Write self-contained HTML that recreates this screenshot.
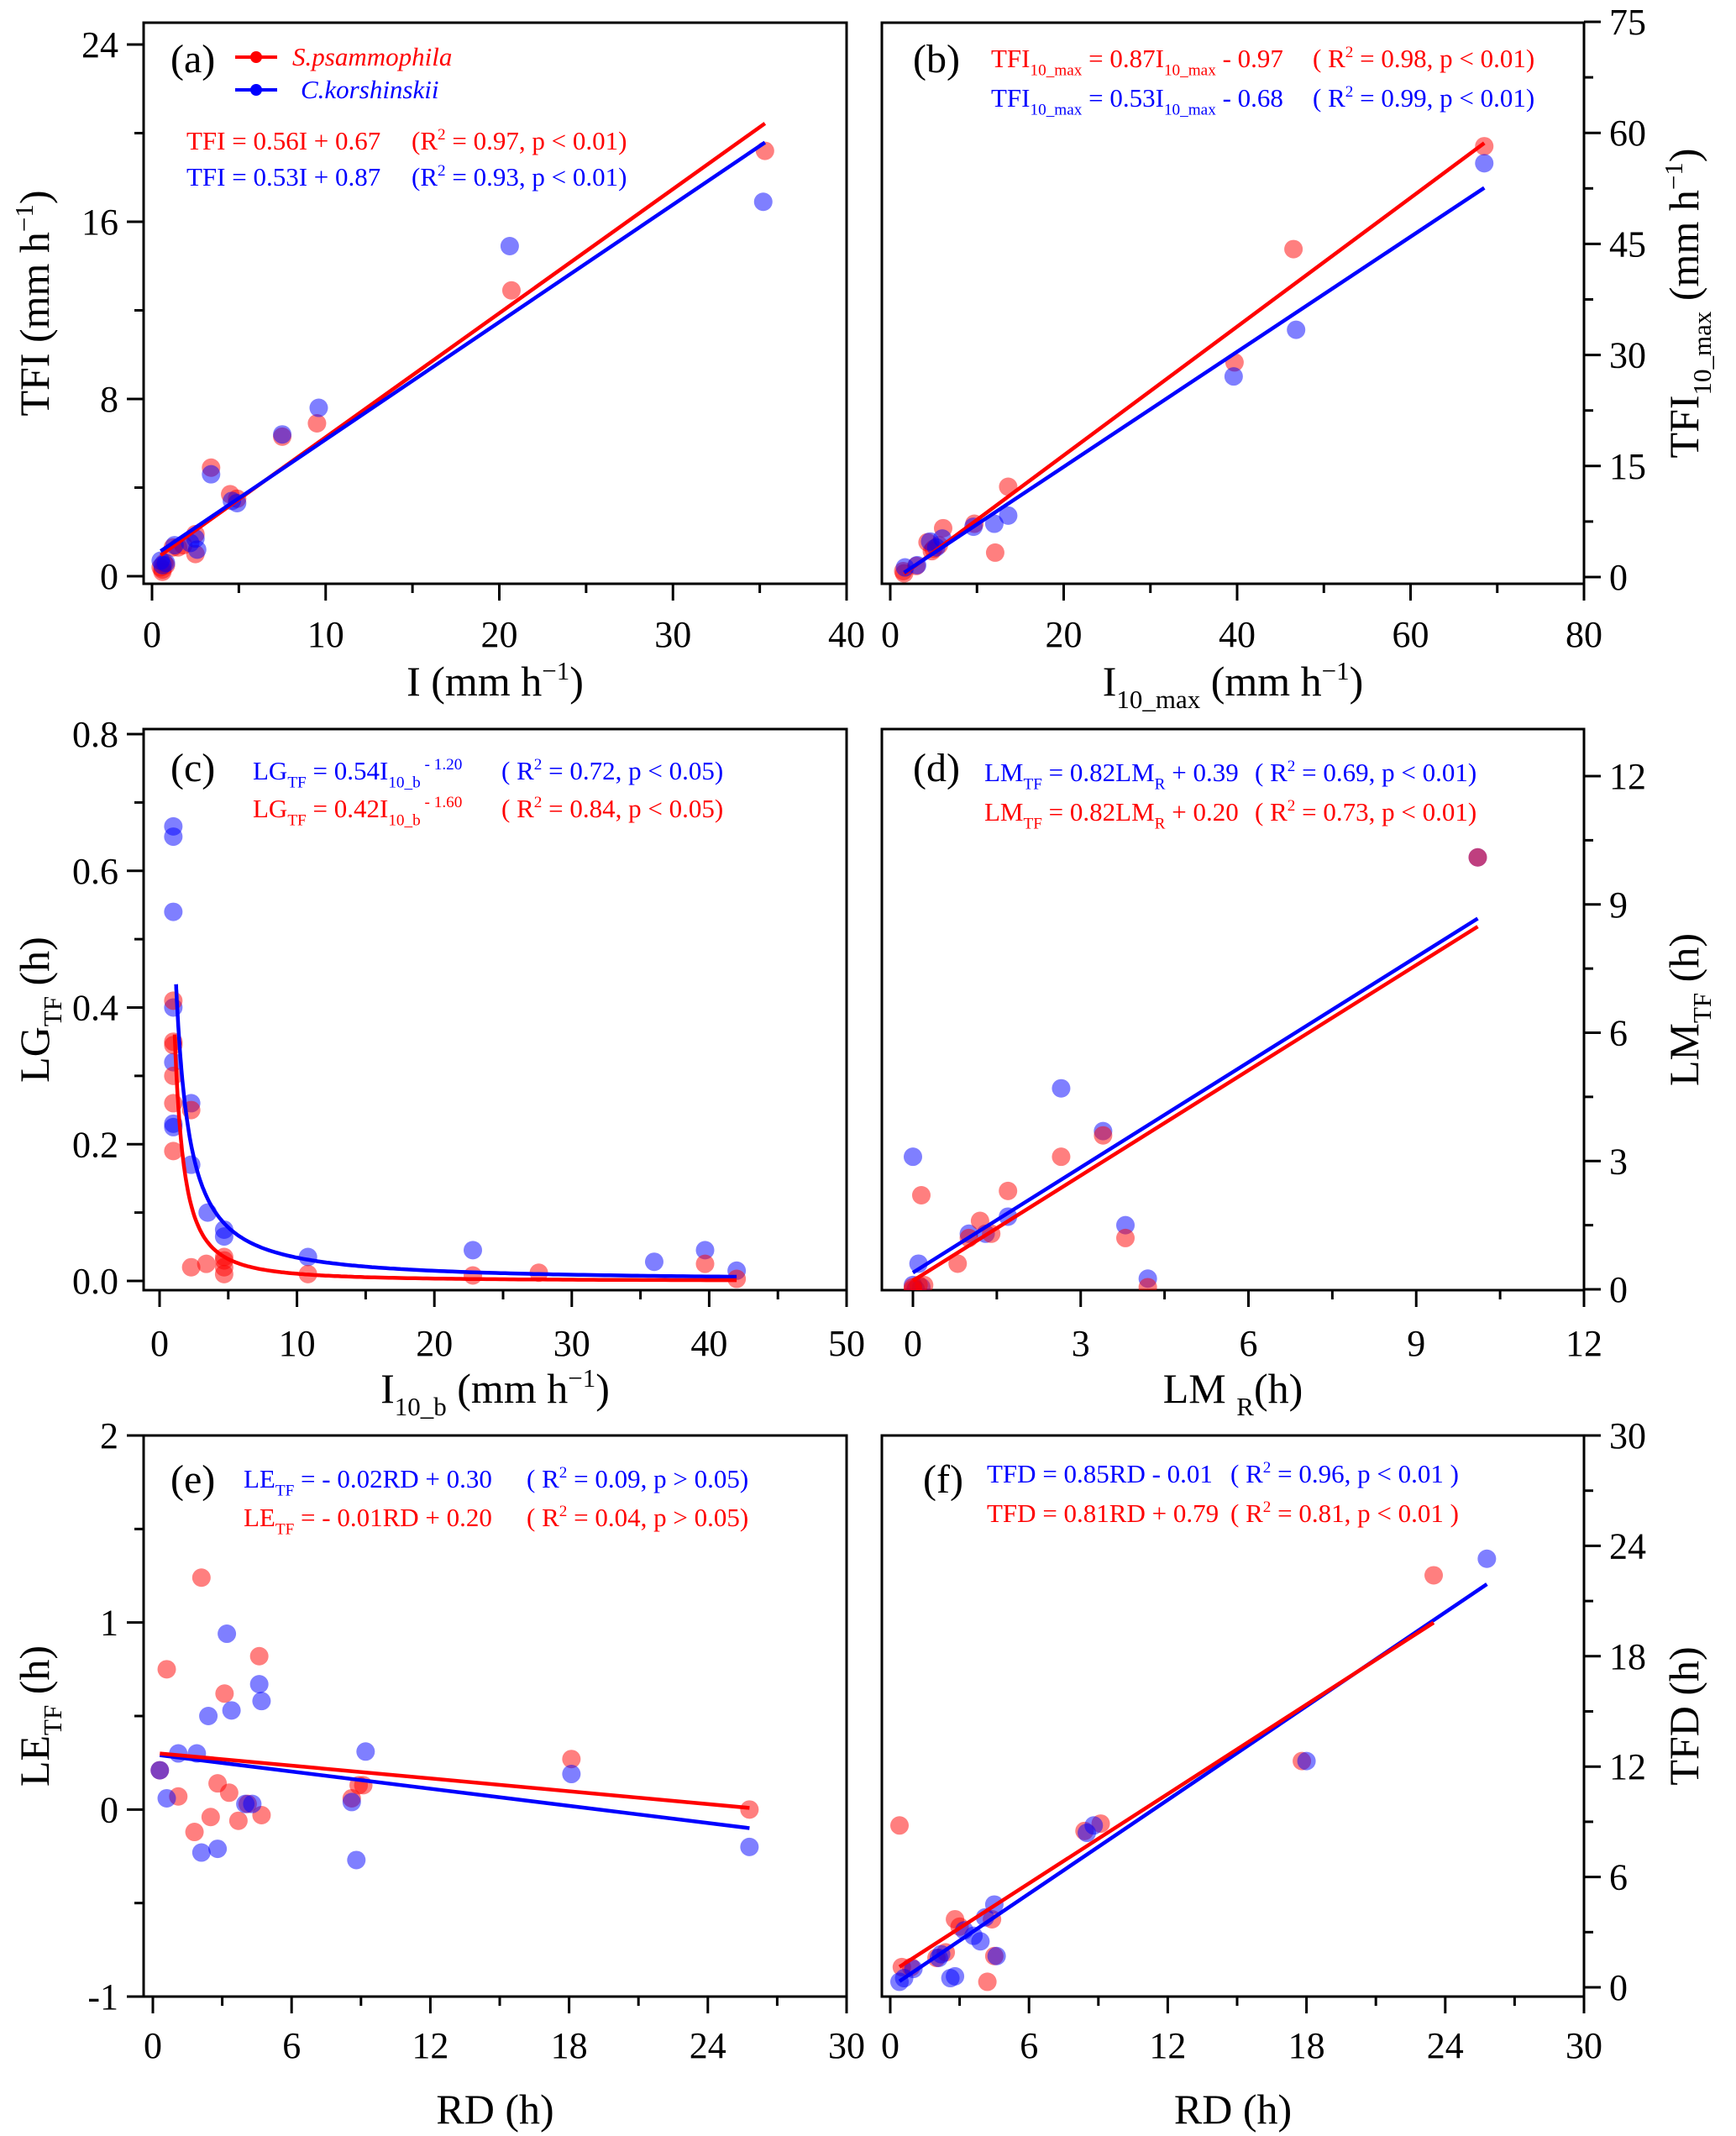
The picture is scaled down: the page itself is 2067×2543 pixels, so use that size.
<!DOCTYPE html>
<html><head><meta charset="utf-8">
<style>
html,body{margin:0;padding:0;background:#fff;}
svg{display:block;font-family:"Liberation Serif",serif;}
</style></head>
<body>
<svg id="fig" width="2067" height="2543" viewBox="0 0 2067 2543" xmlns="http://www.w3.org/2000/svg"></svg>
<script>
// ---------- DATA ----------
// Panel a: I vs TFI
const aRedX=[35.3,20.7,9.5,7.5,3.4,4.5,4.9,2.5,2.5,1.2,1.5,1.8,0.5,0.6,0.7,0.8,0.6];
const aRedY=[19.2,12.9,6.9,6.3,4.9,3.7,3.5,1.9,1.0,1.3,1.3,1.4,0.4,0.3,0.6,0.5,0.2];
const aBlueX=[35.2,20.6,9.6,7.5,3.4,4.6,4.9,2.5,2.6,2.2,1.3,0.5,0.8,0.6];
const aBlueY=[16.9,14.9,7.6,6.4,4.6,3.4,3.3,1.7,1.2,1.5,1.4,0.7,0.6,0.5];
const aFitRed=[0.56,0.67,0.5,35.3];
const aFitBlue=[0.53,0.87,0.5,35.3];
// Panel b: I10_max vs TFI10_max
const bRedX=[68.5,46.5,39.7,13.6,12.1,9.7,6.1,5.6,4.8,4.3,5.0,3.0,1.5,1.6];
const bRedY=[58.2,44.3,29.0,12.2,3.3,7.2,6.6,4.3,3.5,4.7,3.8,1.5,0.8,0.5];
const bBlueX=[68.5,46.8,39.6,13.6,12.0,9.6,6.0,5.3,4.6,3.1,1.7];
const bBlueY=[55.9,33.4,27.1,8.3,7.2,6.8,5.2,4.0,4.8,1.6,1.3];
const bFitRed=[0.87,-0.97,1.6,68.5];
const bFitBlue=[0.777,-0.65,1.6,68.5];
// Panel c: I10_b vs LG_TF (power fits)
const cBlueX=[1.0,1.0,1.0,1.0,1.0,1.0,1.0,2.3,2.3,3.5,4.7,4.7,10.8,22.8,36,39.7,42];
const cBlueY=[0.665,0.65,0.54,0.40,0.32,0.225,0.23,0.26,0.17,0.10,0.075,0.065,0.035,0.045,0.028,0.045,0.015];
const cRedX=[1.0,1.0,1.0,1.0,1.0,1.0,2.3,2.3,3.4,4.7,4.7,4.7,4.7,10.8,22.8,27.6,39.7,42];
const cRedY=[0.41,0.35,0.345,0.30,0.26,0.19,0.25,0.02,0.025,0.035,0.03,0.02,0.01,0.01,0.008,0.012,0.025,0.003];
const cFitBlue=[0.54,-1.2,1.2,42];
const cFitRed=[0.42,-1.6,1.1,42];
// Panel d: LM_R vs LM_TF
const dBlueX=[0,0.1,0,0.05,0.15,1.0,1.3,1.7,2.65,3.4,3.8,4.2,10.1];
const dBlueY=[3.1,0.6,0.1,0,0.05,1.3,1.3,1.7,4.7,3.7,1.5,0.25,10.1];
const dRedX=[0.15,0,0.1,0,0.2,0.8,1.0,1.2,1.4,1.7,2.65,3.4,3.8,4.2,10.1];
const dRedY=[2.2,0.05,0.1,0,0.1,0.6,1.2,1.6,1.3,2.3,3.1,3.6,1.2,0.05,10.1];
const dFitBlue=[0.82,0.39,0,10.1];
const dFitRed=[0.82,0.20,0,10.1];
// Panel e: RD vs LE_TF
const eRedX=[0.3,0.6,1.1,1.8,2.1,2.5,2.8,3.1,3.3,3.7,4.1,4.6,4.7,8.6,8.9,9.1,18.1,25.8];
const eRedY=[0.21,0.75,0.07,-0.12,1.24,-0.04,0.14,0.62,0.09,-0.06,0.03,0.82,-0.03,0.06,0.13,0.13,0.27,0.0];
const eBlueX=[0.3,0.6,1.1,1.9,2.1,2.4,2.8,3.2,3.4,4.0,4.3,4.6,4.7,8.6,8.8,9.2,18.1,25.8];
const eBlueY=[0.21,0.06,0.3,0.3,-0.23,0.5,-0.21,0.94,0.53,0.03,0.03,0.67,0.58,0.04,-0.27,0.31,0.19,-0.2];
const eFitRed=[-0.0114,0.303,0.3,25.8];
const eFitBlue=[-0.0153,0.295,0.3,25.8];
// Panel f: RD vs TFD
const fRedX=[0.4,0.5,0.9,2.0,2.4,2.8,3.0,4.2,4.4,4.5,8.4,9.1,17.8,23.5];
const fRedY=[8.8,1.1,1.1,1.6,1.9,3.7,3.3,0.3,3.7,1.7,8.5,8.9,12.3,22.4];
const fBlueX=[0.4,0.6,1.0,2.1,2.2,2.6,2.8,3.2,3.6,3.9,4.1,4.5,4.6,8.5,8.8,18.0,25.8];
const fBlueY=[0.3,0.5,1.0,1.6,1.8,0.5,0.6,3.1,2.8,2.5,3.8,4.5,1.7,8.4,8.8,12.3,23.3];
const fFitBlue=[0.85,-0.01,0.4,25.8];
const fFitRed=[0.81,0.79,0.4,23.5];
// tick labels
const aXTicks=["0","10","20","30","40"], aYTicks=["0","8","16","24"];
const bXTicks=["0","20","40","60","80"], bYTicks=["0","15","30","45","60","75"];
const cXTicks=["0","10","20","30","40","50"], cYTicks=["0.0","0.2","0.4","0.6","0.8"];
const dXTicks=["0","3","6","9","12"], dYTicks=["0","3","6","9","12"];
const eXTicks=["0","6","12","18","24","30"], eYTicks=["-1","0","1","2"];
const fXTicks=["0","6","12","18","24","30"], fYTicks=["0","6","12","18","24","30"];

// ---------- DRAWING ----------
const NS="http://www.w3.org/2000/svg";
const svg=document.getElementById('fig');
const RED="#ff0000", BLUE="#0000ff";
function mk(tag,attrs,parent){const e=document.createElementNS(NS,tag);for(const k in attrs)e.setAttribute(k,attrs[k]);(parent||svg).appendChild(e);return e;}
// segments: [text, mode] mode: n|sub|sup
function rich(parent,x,y,segs,size,fill,anchor,extra){
  const t=mk('text',Object.assign({x:x,y:y,'font-size':size,fill:fill,'text-anchor':anchor||'start'},extra||{}),parent);
  let cur=0;
  segs.forEach(s=>{
    const sp=mk('tspan',{},t);
    let target=0,fs=size;
    if(s[1]==='sub'){target=size*0.3;fs=size*0.62;}
    if(s[1]==='sup'){target=-size*0.38;fs=size*0.62;}
    sp.setAttribute('dy',target-cur);cur=target;
    sp.setAttribute('font-size',fs);
    if(s[2])sp.setAttribute('font-style','italic');
    sp.textContent=s[0];
  });
  return t;
}
function linmap(d0,d1,p0,p1){return v=>p0+(v-d0)*(p1-p0)/(d1-d0);}

function panel(cfg){
  const g=mk('g',{});
  
  
  const X=linmap(cfg.xd[0],cfg.xd[1],cfg.xp[0],cfg.xp[1]);
  const Y=linmap(cfg.yd[0],cfg.yd[1],cfg.yp[0],cfg.yp[1]);
  const [L,T,R,B]=cfg.frame;
  const fr=mk('rect',{x:L,y:T,width:R-L,height:B-T,fill:'none',stroke:'#000','stroke-width':3},g);
  
  
  // x ticks
  const xa=mk('g',{},g);
  
  
  const nX=cfg.xTicks.length;
  for(let i=0;i<nX;i++){
    const v=cfg.xd[0]+i*cfg.xStep;const px=X(v);
    mk('line',{x1:px,x2:px,y1:B,y2:B+20,stroke:'#000','stroke-width':3},xa);
    if(i<nX-1){const m=X(v+cfg.xStep/2);mk('line',{x1:m,x2:m,y1:B,y2:B+11,stroke:'#000','stroke-width':3},xa);}
    const tl=mk('text',{x:px,y:cfg.xLabY,'font-size':44,'text-anchor':'middle'},xa);
    
    
    tl.textContent=cfg.xTicks[i];
  }
  // y ticks
  const ya=mk('g',{},g);
  
  
  const nY=cfg.yTicks.length;const right=cfg.side==='right';
  const bx=right?R:L, dir=right?1:-1;
  for(let i=0;i<nY;i++){
    const v=cfg.yd[0]+i*cfg.yStep;const py=Y(v);
    mk('line',{x1:bx,x2:bx+dir*20,y1:py,y2:py,stroke:'#000','stroke-width':3},ya);
    if(i<nY-1){const m=Y(v+cfg.yStep/2);mk('line',{x1:bx,x2:bx+dir*11,y1:m,y2:m,stroke:'#000','stroke-width':3},ya);}
    const tl=mk('text',{x:right?bx+30:bx-30,y:py+15,'font-size':44,'text-anchor':right?'start':'end'},ya);
    
    
    tl.textContent=cfg.yTicks[i];
  }
  // titles
  const xt=rich(g,(L+R)/2,cfg.xTitleY,cfg.xTitle,50,'#000','middle');
  
  
  const tx=right?2022:58, ty=(T+B)/2;
  const yt=rich(g,0,0,cfg.yTitle,50,'#000','middle',{transform:`translate(${tx},${ty}) rotate(-90)`});
  
  
  // clip
  const cp=mk('clipPath',{id:'clip'+cfg.id},g);
  mk('rect',{x:L,y:T,width:R-L,height:B-T},cp);
  const pg=mk('g',{'clip-path':`url(#clip${cfg.id})`},g);
  // points
  cfg.series.forEach(s=>{
    const sg=mk('g',{},pg);
    
    
    s.x.forEach((v,i)=>{
      const c=mk('circle',{cx:X(v),cy:Y(s.y[i]),r:11,fill:s.color,'fill-opacity':0.5},sg);
      
      
    });
  });
  // fits
  cfg.fits.forEach(f=>{
    const p=f.p;let d='';
    const N=f.power?200:1;
    for(let k=0;k<=N;k++){
      const xv=p[2]+(p[3]-p[2])*(f.power?Math.pow(k/N,2.2):k/N);
      const yv=f.power?p[0]*Math.pow(xv,p[1]):p[0]*xv+p[1];
      d+=(k?'L':'M')+X(xv).toFixed(1)+','+Y(yv).toFixed(1);
    }
    const pa=mk('path',{d:d,fill:'none',stroke:f.color,'stroke-width':4.5},pg);
    
    
  });
  // panel label
  const pl=mk('text',{x:cfg.label[0],y:cfg.label[1],'font-size':48},g);
  
  
  pl.textContent='('+cfg.id+')';
  // equations
  cfg.eqs.forEach(e=>{
    const t1=rich(g,e.x1,e.y,e.a,31,e.color,'start');
    
    
    const t2=rich(g,e.x2,e.y,e.b,31,e.color,'start');
    
    
  });
  return g;
}
const N_='n';
function r2(v,rel,p){return [['(R',N_],['2','sup'],[` = ${v}, p ${rel} ${p})`,N_]];}

panel({id:'a',frame:[171,27,1008,695],xd:[0,40],xp:[181,1008],yd:[0,24],yp:[686,53],
 xStep:10,yStep:8,xTicks:aXTicks,yTicks:aYTicks,side:'left',xLabY:770,xTitleY:828,
 xTitle:[['I  (mm h',N_],['−1','sup'],[')',N_]],yTitle:[['TFI  (mm h',N_],['−1','sup'],[')',N_]],
 series:[{name:'s-psammophila',color:RED,x:aRedX,y:aRedY},{name:'c-korshinskii',color:BLUE,x:aBlueX,y:aBlueY}],
 fits:[{name:'s-psammophila',color:RED,p:aFitRed},{name:'c-korshinskii',color:BLUE,p:aFitBlue}],
 label:[203,86],
 eqs:[{name:'s-psammophila',color:RED,x1:222,x2:490,y:178,a:[['TFI = 0.56I + 0.67',N_]],b:r2('0.97','<','0.01')},
      {name:'c-korshinskii',color:BLUE,x1:222,x2:490,y:221,a:[['TFI = 0.53I + 0.87',N_]],b:r2('0.93','<','0.01')}]});

// legend
(function(){
  const lg=mk('g',{});
  
  
  [[RED,68,78,'S.psammophila',348,'legend-s-psammophila'],[BLUE,107,117,'C.korshinskii',358,'legend-c-korshinskii']].forEach(r=>{
    const e=mk('g',{},lg);
    
    
    mk('line',{x1:280,x2:330,y1:r[1],y2:r[1],stroke:r[0],'stroke-width':4},e);
    mk('circle',{cx:305,cy:r[1],r:7,fill:r[0]},e);
    const t=mk('text',{x:r[4],y:r[2],'font-size':31,fill:r[0],'font-style':'italic'},e);
    t.textContent=r[3];
  });
})();

panel({id:'b',frame:[1050,27,1886,695],xd:[0,80],xp:[1060,1886],yd:[0,75],yp:[687,26],
 xStep:20,yStep:15,xTicks:bXTicks,yTicks:bYTicks,side:'right',xLabY:770,xTitleY:828,
 xTitle:[['I',N_],['10_max','sub'],[' (mm h',N_],['−1','sup'],[')',N_]],
 yTitle:[['TFI',N_],['10_max','sub'],[' (mm h',N_],['−1','sup'],[')',N_]],
 series:[{name:'s-psammophila',color:RED,x:bRedX,y:bRedY},{name:'c-korshinskii',color:BLUE,x:bBlueX,y:bBlueY}],
 fits:[{name:'s-psammophila',color:RED,p:bFitRed},{name:'c-korshinskii',color:BLUE,p:bFitBlue}],
 label:[1087,86],
 eqs:[{name:'s-psammophila',color:RED,x1:1180,x2:1563,y:80,a:[['TFI',N_],['10_max','sub'],[' = 0.87I',N_],['10_max','sub'],[' - 0.97',N_]],b:[['( R',N_],['2','sup'],[' = 0.98, p < 0.01)',N_]]},
      {name:'c-korshinskii',color:BLUE,x1:1180,x2:1563,y:127,a:[['TFI',N_],['10_max','sub'],[' = 0.53I',N_],['10_max','sub'],[' - 0.68',N_]],b:[['( R',N_],['2','sup'],[' = 0.99, p < 0.01)',N_]]}]});

panel({id:'c',frame:[171,868,1008,1536],xd:[0,50],xp:[190,1008],yd:[0,0.8],yp:[1525,874],
 xStep:10,yStep:0.2,xTicks:cXTicks,yTicks:cYTicks,side:'left',xLabY:1614,xTitleY:1670,
 xTitle:[['I',N_],['10_b','sub'],[' (mm h',N_],['−1','sup'],[')',N_]],
 yTitle:[['LG',N_],['TF','sub'],[' (h)',N_]],
 series:[{name:'c-korshinskii',color:BLUE,x:cBlueX,y:cBlueY},{name:'s-psammophila',color:RED,x:cRedX,y:cRedY}],
 fits:[{name:'c-korshinskii',color:BLUE,p:cFitBlue,power:true},{name:'s-psammophila',color:RED,p:cFitRed,power:true}],
 label:[203,930],
 eqs:[{name:'c-korshinskii',color:BLUE,x1:301,x2:597,y:928,a:[['LG',N_],['TF','sub'],[' = 0.54I',N_],['10_b','sub'],[' - 1.20','sup']],b:[['( R',N_],['2','sup'],[' = 0.72, p < 0.05)',N_]]},
      {name:'s-psammophila',color:RED,x1:301,x2:597,y:973,a:[['LG',N_],['TF','sub'],[' = 0.42I',N_],['10_b','sub'],[' - 1.60','sup']],b:[['( R',N_],['2','sup'],[' = 0.84, p < 0.05)',N_]]}]});

panel({id:'d',frame:[1050,868,1886,1536],xd:[0,12],xp:[1087,1886],yd:[0,12],yp:[1535,924],
 xStep:3,yStep:3,xTicks:dXTicks,yTicks:dYTicks,side:'right',xLabY:1614,xTitleY:1670,
 xTitle:[['LM ',N_],['R','sub'],['(h)',N_]],
 yTitle:[['LM',N_],['TF','sub'],[' (h)',N_]],
 series:[{name:'c-korshinskii',color:BLUE,x:dBlueX,y:dBlueY},{name:'s-psammophila',color:RED,x:dRedX,y:dRedY}],
 fits:[{name:'c-korshinskii',color:BLUE,p:dFitBlue},{name:'s-psammophila',color:RED,p:dFitRed}],
 label:[1087,930],
 eqs:[{name:'c-korshinskii',color:BLUE,x1:1172,x2:1494,y:930,a:[['LM',N_],['TF','sub'],[' = 0.82LM',N_],['R','sub'],[' + 0.39',N_]],b:[['( R',N_],['2','sup'],[' = 0.69, p < 0.01)',N_]]},
      {name:'s-psammophila',color:RED,x1:1172,x2:1494,y:977,a:[['LM',N_],['TF','sub'],[' = 0.82LM',N_],['R','sub'],[' + 0.20',N_]],b:[['( R',N_],['2','sup'],[' = 0.73, p < 0.01)',N_]]}]});

panel({id:'e',frame:[171,1709,1008,2377],xd:[0,30],xp:[182,1008],yd:[-1,2],yp:[2377,1709],
 xStep:6,yStep:1,xTicks:eXTicks,yTicks:eYTicks,side:'left',xLabY:2450,xTitleY:2528,
 xTitle:[['RD (h)',N_]],
 yTitle:[['LE',N_],['TF','sub'],[' (h)',N_]],
 series:[{name:'s-psammophila',color:RED,x:eRedX,y:eRedY},{name:'c-korshinskii',color:BLUE,x:eBlueX,y:eBlueY}],
 fits:[{name:'c-korshinskii',color:BLUE,p:eFitBlue},{name:'s-psammophila',color:RED,p:eFitRed}],
 label:[203,1777],
 eqs:[{name:'c-korshinskii',color:BLUE,x1:290,x2:627,y:1771,a:[['LE',N_],['TF','sub'],[' = - 0.02RD + 0.30',N_]],b:[['( R',N_],['2','sup'],[' = 0.09, p > 0.05)',N_]]},
      {name:'s-psammophila',color:RED,x1:290,x2:627,y:1817,a:[['LE',N_],['TF','sub'],[' = - 0.01RD + 0.20',N_]],b:[['( R',N_],['2','sup'],[' = 0.04, p > 0.05)',N_]]}]});

panel({id:'f',frame:[1050,1709,1886,2377],xd:[0,30],xp:[1060,1886],yd:[0,30],yp:[2366,1709],
 xStep:6,yStep:6,xTicks:fXTicks,yTicks:fYTicks,side:'right',xLabY:2450,xTitleY:2528,
 xTitle:[['RD (h)',N_]],
 yTitle:[['TFD (h)',N_]],
 series:[{name:'s-psammophila',color:RED,x:fRedX,y:fRedY},{name:'c-korshinskii',color:BLUE,x:fBlueX,y:fBlueY}],
 fits:[{name:'c-korshinskii',color:BLUE,p:fFitBlue},{name:'s-psammophila',color:RED,p:fFitRed}],
 label:[1099,1777],
 eqs:[{name:'c-korshinskii',color:BLUE,x1:1175,x2:1465,y:1765,a:[['TFD = 0.85RD - 0.01',N_]],b:[['( R',N_],['2','sup'],[' = 0.96, p < 0.01 )',N_]]},
      {name:'s-psammophila',color:RED,x1:1175,x2:1465,y:1812,a:[['TFD = 0.81RD + 0.79',N_]],b:[['( R',N_],['2','sup'],[' = 0.81, p < 0.01 )',N_]]}]});
</script>
</body></html>
